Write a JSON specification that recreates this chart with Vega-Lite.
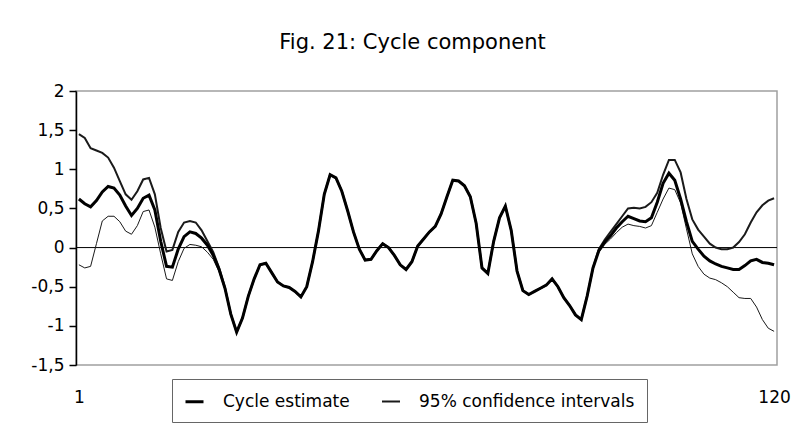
{
"$schema": "https://vega.github.io/schema/vega-lite/v6.json",
"width": 701, "height": 274,
"autosize": "none",
"padding": {"left": 76, "top": 91, "right": 34, "bottom": 59},
"background": "white",
"config": {"view": {"stroke": "#a0a0a0", "strokeWidth": 1.5}, "font": "DejaVu Sans", "axis": {"labelOverlap": false}},
"title": {"text": "Fig. 21: Cycle component", "fontSize": 21, "font": "DejaVu Sans", "fontWeight": "normal", "color": "black", "anchor": "middle", "dx": -14, "baseline": "alphabetic", "offset": 12},
"layer": [
{"data": {"values": [{"zero": 0}]},
 "mark": {"type": "rule", "color": "black", "strokeWidth": 1},
 "encoding": {"y": {"field": "zero", "type": "quantitative",
        "scale": {"domain": [-1.5, 2], "nice": false, "zero": false},
        "axis": {"values": [-1.5, -1, -0.5, 0, 0.5, 1, 1.5, 2], "title": null, "grid": false, "domainColor": "black", "domainWidth": 1.5, "tickColor": "black", "tickWidth": 1.5, "tickSize": 7, "labelFontSize": 17, "labelFont": "DejaVu Sans", "labelColor": "black", "labelPadding": 5, "labelFlush": false, "labelOverlap": false, "labelBound": false,
                 "labelExpr": "(datum.value < 0 ? '-' : '') + replace(toString(abs(datum.value)), '.', ',')"}}}},
{"data": {"values": [
{"t":1,"est":0.62,"up":1.45,"lo":-0.22},
{"t":2,"est":0.56,"up":1.40,"lo":-0.26},
{"t":3,"est":0.52,"up":1.27,"lo":-0.24},
{"t":4,"est":0.60,"up":1.24,"lo":0.05},
{"t":5,"est":0.71,"up":1.21,"lo":0.34},
{"t":6,"est":0.78,"up":1.15,"lo":0.40},
{"t":7,"est":0.76,"up":1.02,"lo":0.40},
{"t":8,"est":0.67,"up":0.85,"lo":0.33},
{"t":9,"est":0.53,"up":0.68,"lo":0.21},
{"t":10,"est":0.41,"up":0.61,"lo":0.17},
{"t":11,"est":0.50,"up":0.72,"lo":0.28},
{"t":12,"est":0.63,"up":0.87,"lo":0.46},
{"t":13,"est":0.67,"up":0.89,"lo":0.48},
{"t":14,"est":0.48,"up":0.68,"lo":0.26},
{"t":15,"est":0.08,"up":0.25,"lo":-0.08},
{"t":16,"est":-0.24,"up":-0.05,"lo":-0.40},
{"t":17,"est":-0.25,"up":-0.03,"lo":-0.42},
{"t":18,"est":-0.02,"up":0.20,"lo":-0.18},
{"t":19,"est":0.14,"up":0.32,"lo":-0.01},
{"t":20,"est":0.20,"up":0.34,"lo":0.04},
{"t":21,"est":0.18,"up":0.32,"lo":0.03},
{"t":22,"est":0.12,"up":0.22,"lo":0.01},
{"t":23,"est":0.03,"up":0.08,"lo":-0.06},
{"t":24,"est":-0.10,"up":-0.06,"lo":-0.15},
{"t":25,"est":-0.28,"up":-0.26,"lo":-0.31},
{"t":26,"est":-0.52,"up":-0.51,"lo":-0.54},
{"t":27,"est":-0.85,"up":-0.85,"lo":-0.85},
{"t":28,"est":-1.08,"up":-1.08,"lo":-1.08},
{"t":29,"est":-0.90,"up":-0.90,"lo":-0.90},
{"t":30,"est":-0.62,"up":-0.62,"lo":-0.62},
{"t":31,"est":-0.40,"up":-0.40,"lo":-0.40},
{"t":32,"est":-0.22,"up":-0.22,"lo":-0.22},
{"t":33,"est":-0.20,"up":-0.20,"lo":-0.20},
{"t":34,"est":-0.32,"up":-0.32,"lo":-0.32},
{"t":35,"est":-0.44,"up":-0.44,"lo":-0.44},
{"t":36,"est":-0.49,"up":-0.49,"lo":-0.49},
{"t":37,"est":-0.51,"up":-0.51,"lo":-0.51},
{"t":38,"est":-0.56,"up":-0.56,"lo":-0.56},
{"t":39,"est":-0.63,"up":-0.63,"lo":-0.63},
{"t":40,"est":-0.50,"up":-0.50,"lo":-0.50},
{"t":41,"est":-0.18,"up":-0.18,"lo":-0.18},
{"t":42,"est":0.21,"up":0.21,"lo":0.21},
{"t":43,"est":0.68,"up":0.68,"lo":0.68},
{"t":44,"est":0.93,"up":0.93,"lo":0.93},
{"t":45,"est":0.89,"up":0.89,"lo":0.89},
{"t":46,"est":0.72,"up":0.72,"lo":0.72},
{"t":47,"est":0.47,"up":0.47,"lo":0.47},
{"t":48,"est":0.20,"up":0.20,"lo":0.20},
{"t":49,"est":-0.02,"up":-0.02,"lo":-0.02},
{"t":50,"est":-0.16,"up":-0.16,"lo":-0.16},
{"t":51,"est":-0.15,"up":-0.15,"lo":-0.15},
{"t":52,"est":-0.04,"up":-0.04,"lo":-0.04},
{"t":53,"est":0.05,"up":0.05,"lo":0.05},
{"t":54,"est":0.00,"up":0.00,"lo":0.00},
{"t":55,"est":-0.10,"up":-0.10,"lo":-0.10},
{"t":56,"est":-0.22,"up":-0.22,"lo":-0.22},
{"t":57,"est":-0.28,"up":-0.28,"lo":-0.28},
{"t":58,"est":-0.18,"up":-0.18,"lo":-0.18},
{"t":59,"est":0.02,"up":0.02,"lo":0.02},
{"t":60,"est":0.11,"up":0.11,"lo":0.11},
{"t":61,"est":0.20,"up":0.20,"lo":0.20},
{"t":62,"est":0.27,"up":0.27,"lo":0.27},
{"t":63,"est":0.43,"up":0.43,"lo":0.43},
{"t":64,"est":0.65,"up":0.65,"lo":0.65},
{"t":65,"est":0.86,"up":0.86,"lo":0.86},
{"t":66,"est":0.85,"up":0.85,"lo":0.85},
{"t":67,"est":0.79,"up":0.79,"lo":0.79},
{"t":68,"est":0.65,"up":0.65,"lo":0.65},
{"t":69,"est":0.31,"up":0.31,"lo":0.31},
{"t":70,"est":-0.26,"up":-0.26,"lo":-0.26},
{"t":71,"est":-0.33,"up":-0.33,"lo":-0.33},
{"t":72,"est":0.08,"up":0.08,"lo":0.08},
{"t":73,"est":0.38,"up":0.38,"lo":0.38},
{"t":74,"est":0.53,"up":0.53,"lo":0.53},
{"t":75,"est":0.22,"up":0.22,"lo":0.22},
{"t":76,"est":-0.30,"up":-0.30,"lo":-0.30},
{"t":77,"est":-0.55,"up":-0.55,"lo":-0.55},
{"t":78,"est":-0.60,"up":-0.60,"lo":-0.60},
{"t":79,"est":-0.56,"up":-0.56,"lo":-0.56},
{"t":80,"est":-0.52,"up":-0.52,"lo":-0.52},
{"t":81,"est":-0.48,"up":-0.48,"lo":-0.48},
{"t":82,"est":-0.40,"up":-0.40,"lo":-0.40},
{"t":83,"est":-0.50,"up":-0.50,"lo":-0.50},
{"t":84,"est":-0.64,"up":-0.64,"lo":-0.64},
{"t":85,"est":-0.74,"up":-0.74,"lo":-0.74},
{"t":86,"est":-0.86,"up":-0.86,"lo":-0.86},
{"t":87,"est":-0.92,"up":-0.92,"lo":-0.92},
{"t":88,"est":-0.62,"up":-0.62,"lo":-0.62},
{"t":89,"est":-0.26,"up":-0.26,"lo":-0.26},
{"t":90,"est":-0.04,"up":-0.02,"lo":-0.06},
{"t":91,"est":0.07,"up":0.10,"lo":0.04},
{"t":92,"est":0.15,"up":0.20,"lo":0.11},
{"t":93,"est":0.25,"up":0.30,"lo":0.19},
{"t":94,"est":0.33,"up":0.40,"lo":0.26},
{"t":95,"est":0.40,"up":0.50,"lo":0.30},
{"t":96,"est":0.37,"up":0.51,"lo":0.28},
{"t":97,"est":0.34,"up":0.50,"lo":0.27},
{"t":98,"est":0.33,"up":0.52,"lo":0.25},
{"t":99,"est":0.38,"up":0.58,"lo":0.28},
{"t":100,"est":0.58,"up":0.70,"lo":0.45},
{"t":101,"est":0.82,"up":0.93,"lo":0.62},
{"t":102,"est":0.95,"up":1.12,"lo":0.76},
{"t":103,"est":0.86,"up":1.12,"lo":0.74},
{"t":104,"est":0.62,"up":0.96,"lo":0.57},
{"t":105,"est":0.33,"up":0.62,"lo":0.24},
{"t":106,"est":0.08,"up":0.36,"lo":-0.08},
{"t":107,"est":-0.02,"up":0.23,"lo":-0.24},
{"t":108,"est":-0.11,"up":0.14,"lo":-0.34},
{"t":109,"est":-0.17,"up":0.05,"lo":-0.39},
{"t":110,"est":-0.21,"up":0.00,"lo":-0.41},
{"t":111,"est":-0.24,"up":-0.02,"lo":-0.45},
{"t":112,"est":-0.26,"up":-0.02,"lo":-0.50},
{"t":113,"est":-0.28,"up":0.00,"lo":-0.57},
{"t":114,"est":-0.28,"up":0.07,"lo":-0.64},
{"t":115,"est":-0.23,"up":0.17,"lo":-0.65},
{"t":116,"est":-0.17,"up":0.32,"lo":-0.65},
{"t":117,"est":-0.15,"up":0.45,"lo":-0.76},
{"t":118,"est":-0.19,"up":0.54,"lo":-0.92},
{"t":119,"est":-0.20,"up":0.60,"lo":-1.03},
{"t":120,"est":-0.22,"up":0.63,"lo":-1.07}
]},
 "transform": [{"fold": ["lo", "up", "est"], "as": ["series", "value"]}],
 "mark": {"type": "line", "interpolate": "linear"},
 "encoding": {
  "x": {"field": "t", "type": "quantitative",
        "scale": {"domain": [0.5, 120.5], "nice": false, "zero": false},
        "axis": {"values": [1, 120], "title": null, "grid": false, "domain": false, "ticks": false, "tickSize": 0, "labelPadding": 24, "labelFontSize": 17, "labelFont": "DejaVu Sans", "labelColor": "black", "labelFlush": false, "labelOverlap": false, "format": "d"}},
  "y": {"field": "value", "type": "quantitative",
        "scale": {"domain": [-1.5, 2], "nice": false, "zero": false},
        "axis": {"values": [-1.5, -1, -0.5, 0, 0.5, 1, 1.5, 2], "title": null, "grid": false, "domainColor": "black", "domainWidth": 1.5, "tickColor": "black", "tickWidth": 1.5, "tickSize": 7, "labelFontSize": 17, "labelFont": "DejaVu Sans", "labelColor": "black", "labelPadding": 5, "labelFlush": false, "labelOverlap": false, "labelBound": false,
                 "labelExpr": "(datum.value < 0 ? '-' : '') + replace(toString(abs(datum.value)), '.', ',')"}},
  "detail": {"field": "series"},
  "color": {"field": "series", "type": "nominal",
            "scale": {"domain": ["est", "up", "lo"], "range": ["black", "#1a1a1a", "#1a1a1a"]},
            "legend": {"values": ["est", "up"], "labelExpr": "datum.value == 'est' ? 'Cycle estimate' : '95% confidence intervals'", "orient": "none", "legendX": 96, "legendY": 288, "direction": "horizontal", "title": null, "strokeColor": "#666666", "fillColor": "white", "padding": 12, "labelFontSize": 17, "labelFont": "DejaVu Sans", "labelColor": "black", "labelLimit": 400, "symbolType": "stroke", "symbolSize": 324, "labelOffset": 18, "columnPadding": 28}},
  "strokeWidth": {"field": "series", "type": "nominal",
            "scale": {"domain": ["est", "up", "lo"], "range": [3, 1, 1]},
            "legend": {"values": ["est", "up"], "labelExpr": "datum.value == 'est' ? 'Cycle estimate' : '95% confidence intervals'", "orient": "none", "legendX": 96, "legendY": 288, "direction": "horizontal", "title": null, "strokeColor": "#666666", "fillColor": "white", "padding": 12, "labelFontSize": 17, "labelFont": "DejaVu Sans", "labelColor": "black", "labelLimit": 400, "symbolType": "stroke", "symbolSize": 324, "labelOffset": 18, "columnPadding": 28}}
 }}
]
}
